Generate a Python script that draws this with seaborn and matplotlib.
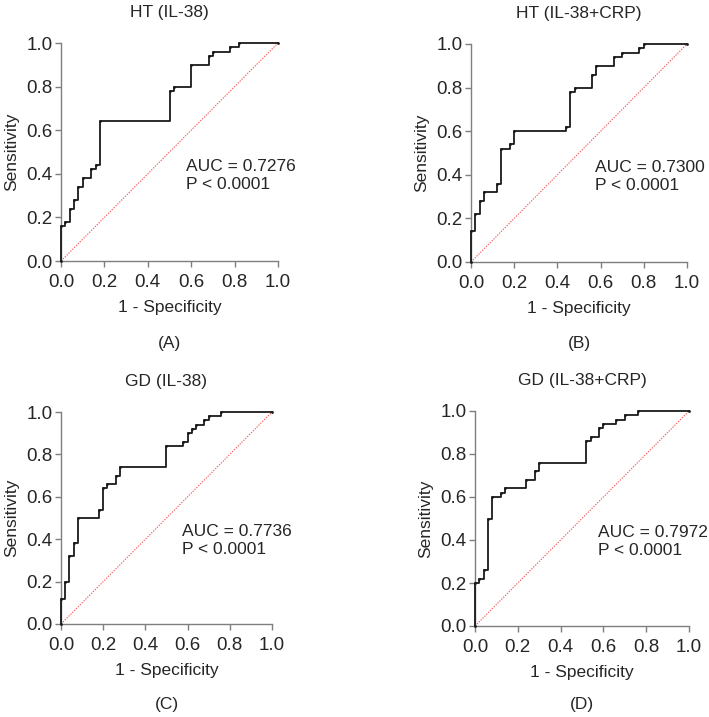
import numpy as np
import pandas as pd
import matplotlib
matplotlib.use("Agg")
import matplotlib.pyplot as plt
import seaborn as sns

# ROC corner points (1 - specificity, sensitivity)
ht_il38_fpr = [0.00, 0.02, 0.04, 0.06, 0.08, 0.10, 0.14, 0.16, 0.18, 0.50, 0.52, 0.60, 0.68, 0.70, 0.78, 0.82, 1.00]
ht_il38_tpr = [0.16, 0.18, 0.24, 0.28, 0.34, 0.38, 0.42, 0.44, 0.64, 0.78, 0.80, 0.90, 0.94, 0.96, 0.98, 1.00, 1.00]

ht_crp_fpr = [0.00, 0.02, 0.04, 0.06, 0.12, 0.14, 0.18, 0.20, 0.44, 0.46, 0.48, 0.56, 0.58, 0.66, 0.70, 0.78, 0.80, 1.00]
ht_crp_tpr = [0.14, 0.22, 0.28, 0.32, 0.36, 0.52, 0.54, 0.60, 0.62, 0.78, 0.80, 0.86, 0.90, 0.94, 0.96, 0.98, 1.00, 1.00]

gd_il38_fpr = [0.00, 0.02, 0.04, 0.06, 0.08, 0.18, 0.20, 0.22, 0.26, 0.28, 0.50, 0.58, 0.60, 0.62, 0.64, 0.68, 0.70, 0.76, 1.00]
gd_il38_tpr = [0.12, 0.20, 0.32, 0.38, 0.50, 0.54, 0.64, 0.66, 0.70, 0.74, 0.84, 0.86, 0.90, 0.92, 0.94, 0.96, 0.98, 1.00, 1.00]

gd_crp_fpr = [0.00, 0.02, 0.04, 0.06, 0.08, 0.12, 0.14, 0.24, 0.28, 0.30, 0.52, 0.54, 0.58, 0.60, 0.66, 0.70, 0.76, 1.00]
gd_crp_tpr = [0.20, 0.22, 0.26, 0.50, 0.60, 0.62, 0.64, 0.68, 0.72, 0.76, 0.86, 0.88, 0.92, 0.94, 0.96, 0.98, 1.00, 1.00]

titles = ["HT (IL-38)", "HT (IL-38+CRP)", "GD (IL-38)", "GD (IL-38+CRP)"]
panel_tags = ["(A)", "(B)", "(C)", "(D)"]
auc_values = [0.7276, 0.7300, 0.7736, 0.7972]
p_labels = ["P < 0.0001"] * 4
chance = [0.0, 1.0]
ticks = [0.0, 0.2, 0.4, 0.6, 0.8, 1.0]

curves = [
    (ht_il38_fpr, ht_il38_tpr),
    (ht_crp_fpr, ht_crp_tpr),
    (gd_il38_fpr, gd_il38_tpr),
    (gd_crp_fpr, gd_crp_tpr),
]

sns.set_style("ticks")
plt.rcParams["font.family"] = ["Liberation Sans", "DejaVu Sans"]
plt.rcParams["font.size"] = 12.5

fig = plt.figure(figsize=(7.09, 7.17), dpi=100)
W, H = 709, 717
# axes boxes in pixels: left, top, right, bottom
boxes = [(61, 43, 278, 261), (471, 44, 687, 262), (61, 412, 272, 624), (475, 411, 689, 626)]
tag_y = [344, 344, 705, 705]

spine_col = "#7f7f7f"
for i, (box, (fpr, tpr)) in enumerate(zip(boxes, curves)):
    l, t, r, b = box
    ax = fig.add_axes([l / W, 1 - b / H, (r - l) / W, (b - t) / H])
    df = pd.DataFrame({"fpr": [0.0] + fpr, "tpr": [0.0] + tpr})
    sns.lineplot(data=df, x="fpr", y="tpr", ax=ax, estimator=None, sort=False,
                 drawstyle="steps-post", color="#1a1a1a", linewidth=1.3,
                 marker="o", markersize=2, markeredgewidth=0, clip_on=False, zorder=3)
    sns.lineplot(x=chance, y=chance, ax=ax, color="#f55a5a", linewidth=0.8,
                 linestyle=(0, (1.2, 1.2)), zorder=2)
    ax.set_xlim(0, 1)
    ax.set_ylim(0, 1)
    ax.set_xticks(ticks)
    ax.set_yticks(ticks)
    ax.set_xticklabels([f"{v:.1f}" for v in ticks])
    ax.set_yticklabels([f"{v:.1f}" for v in ticks])
    for side in ["top", "right"]:
        ax.spines[side].set_visible(False)
    for side in ["left", "bottom"]:
        ax.spines[side].set_color(spine_col)
        ax.spines[side].set_linewidth(1.0)
    ax.tick_params(axis="x", length=4, width=1.0, color=spine_col, pad=5.5, labelsize=13.5)
    ax.tick_params(axis="y", length=4.5, width=1.0, color=spine_col, pad=1.5, labelsize=13.5)
    ax.set_xlabel("1 - Specificity", fontsize=12.5, labelpad=6)
    ax.set_ylabel("Sensitivity", fontsize=12.5, labelpad=5)
    ax.set_title(titles[i], fontsize=12.5, pad=19)
    ax.text(0.575, 0.47, f"AUC = {auc_values[i]:.4f}\n{p_labels[i]}", fontsize=12.5,
            ha="left", va="top", linespacing=1.25, clip_on=False)
    fig.text((l + r) / 2 / W, 1 - tag_y[i] / H, panel_tags[i], ha="center", va="center",
             fontsize=12.5)

fig.savefig("out.png", dpi=100)
